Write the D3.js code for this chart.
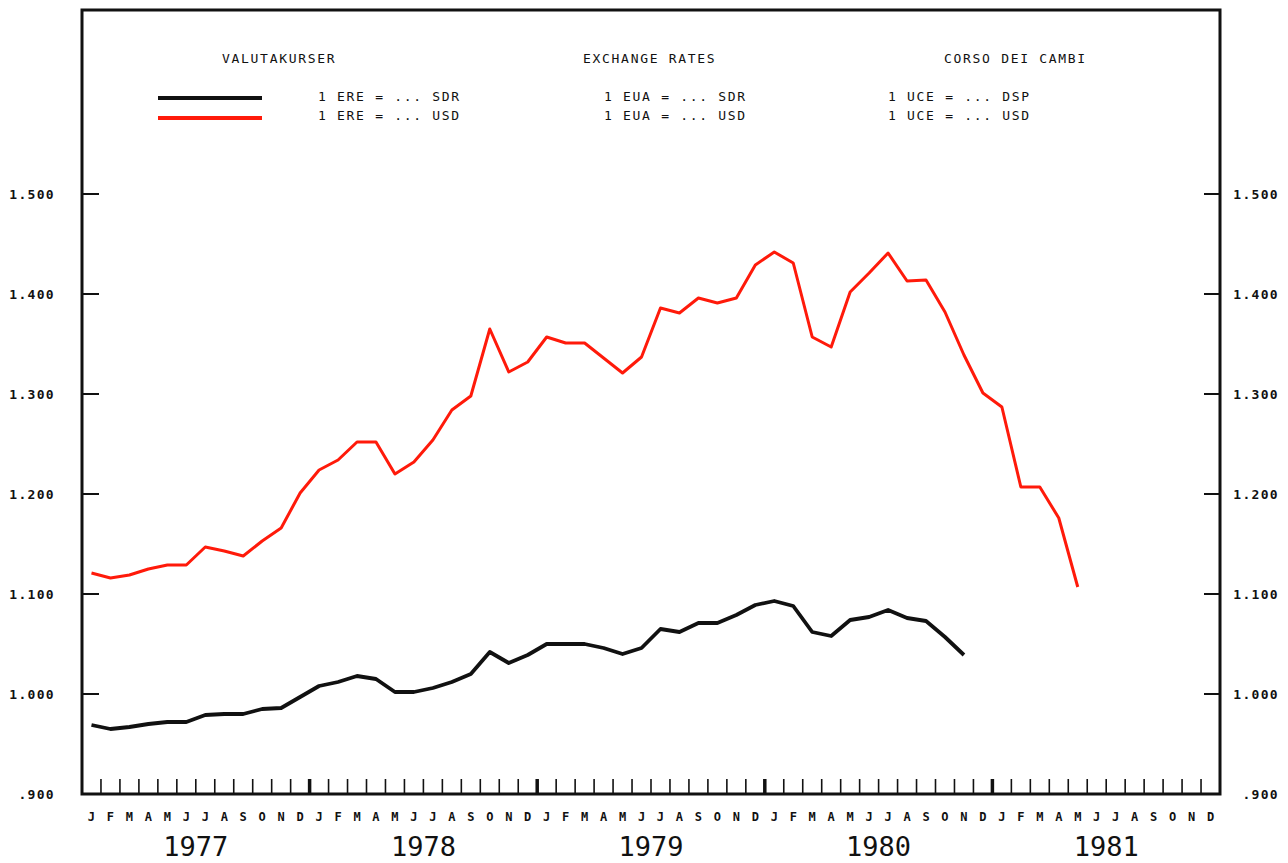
<!DOCTYPE html>
<html>
<head>
<meta charset="utf-8">
<script src="https://cdn.jsdelivr.net/npm/d3@7"></script>
<style>
  body { margin: 0; background: #fff; }
  svg text { font-family: 'DejaVu Sans Mono', monospace; fill: #111; }
</style>
</head>
<body>
<div id="chart"></div>
<script>
// month initials, Jan 1977 .. Dec 1981
var monthLetters = ["J","F","M","A","M","J","J","A","S","O","N","D"];
var years = ["1977", "1978", "1979", "1980", "1981"];
var yTicks = [0.9, 1.0, 1.1, 1.2, 1.3, 1.4, 1.5];

// 1 ERE = ... SDR, monthly from Jan 1977 to Nov 1980
var sdrValues = [
  0.969, 0.965, 0.967, 0.970, 0.972, 0.972, 0.979, 0.980, 0.980, 0.985, 0.986, 0.997,
  1.008, 1.012, 1.018, 1.015, 1.002, 1.002, 1.006, 1.012, 1.020, 1.042, 1.031, 1.039,
  1.050, 1.050, 1.050, 1.046, 1.040, 1.046, 1.065, 1.062, 1.071, 1.071, 1.079, 1.089,
  1.093, 1.088, 1.062, 1.058, 1.074, 1.077, 1.084, 1.076, 1.073, 1.057, 1.039
];

// 1 ERE = ... USD, monthly from Jan 1977 to May 1981
var usdValues = [
  1.121, 1.116, 1.119, 1.125, 1.129, 1.129, 1.147, 1.143, 1.138, 1.153, 1.166, 1.201,
  1.224, 1.234, 1.252, 1.252, 1.220, 1.232, 1.254, 1.284, 1.298, 1.365, 1.322, 1.332,
  1.357, 1.351, 1.351, 1.336, 1.321, 1.337, 1.386, 1.381, 1.396, 1.391, 1.396, 1.429,
  1.442, 1.431, 1.357, 1.347, 1.402, 1.421, 1.441, 1.413, 1.414, 1.382, 1.339, 1.301,
  1.287, 1.207, 1.207, 1.176, 1.107
];

var titles = ["VALUTAKURSER", "EXCHANGE RATES", "CORSO DEI CAMBI"];
var legendSdr = ["1 ERE = ... SDR", "1 EUA = ... SDR", "1 UCE = ... DSP"];
var legendUsd = ["1 ERE = ... USD", "1 EUA = ... USD", "1 UCE = ... USD"];

var W = 1288, H = 863;
var plotL = 82, plotR = 1220, plotT = 10, plotB = 794;
var nMonths = monthLetters.length * years.length;

var svg = d3.select("#chart").append("svg")
    .attr("width", W).attr("height", H);

var x = d3.scaleLinear().domain([0, nMonths]).range([plotL, plotR]);
var y = d3.scaleLinear().domain([0.9, 1.5]).range([plotB, 194]);

var fmt = function (v) {
  var s = d3.format(".3f")(v);
  return s.charAt(0) === "0" ? s.slice(1) : s;
};

// frame
svg.append("path")
    .attr("d", "M" + plotL + "," + plotB + "V" + plotT + "H" + plotR + "V" + plotB + "Z")
    .attr("fill", "none").attr("stroke", "#111").attr("stroke-width", 3);

// y ticks both sides
var yt = yTicks.filter(function (d) { return d > 0.9; });
svg.selectAll(".ytl").data(yt).enter().append("line")
    .attr("x1", plotL).attr("x2", plotL + 17)
    .attr("y1", function (d) { return y(d); }).attr("y2", function (d) { return y(d); })
    .attr("stroke", "#111").attr("stroke-width", 2);
svg.selectAll(".ytr").data(yt).enter().append("line")
    .attr("x1", plotR - 16).attr("x2", plotR)
    .attr("y1", function (d) { return y(d); }).attr("y2", function (d) { return y(d); })
    .attr("stroke", "#111").attr("stroke-width", 2);

svg.selectAll(".yll").data(yTicks).enter().append("text")
    .attr("x", 55).attr("y", function (d) { return y(d) + 5; })
    .attr("text-anchor", "end")
    .style("font-size", "13px").style("font-weight", "bold").style("letter-spacing", "1.3px")
    .text(fmt);
svg.selectAll(".ylr").data(yTicks).enter().append("text")
    .attr("x", 1279).attr("y", function (d) { return y(d) + 5; })
    .attr("text-anchor", "end")
    .style("font-size", "13px").style("font-weight", "bold").style("letter-spacing", "1.3px")
    .text(fmt);

// month boundary ticks, thicker at year boundaries
svg.selectAll(".xt").data(d3.range(1, nMonths)).enter().append("line")
    .attr("x1", function (d) { return x(d); }).attr("x2", function (d) { return x(d); })
    .attr("y1", plotB).attr("y2", plotB - 15)
    .attr("stroke", "#111")
    .attr("stroke-width", function (d) { return d % 12 === 0 ? 3.5 : 1.6; });

// month letters
svg.selectAll(".ml").data(d3.range(nMonths)).enter().append("text")
    .attr("x", function (d) { return x(d + 0.5); })
    .attr("y", 821)
    .attr("text-anchor", "middle")
    .style("font-size", "12px").style("font-weight", "bold")
    .text(function (d) { return monthLetters[d % 12]; });

// years
svg.selectAll(".yr").data(years).enter().append("text")
    .attr("x", function (d, i) { return x(i * 12 + 6); })
    .attr("y", 856)
    .attr("text-anchor", "middle")
    .style("font-size", "27px")
    .text(function (d) { return d; });

// lines
var line = d3.line()
    .x(function (d, i) { return x(i + 0.5); })
    .y(function (d) { return y(d); });

svg.append("path").datum(usdValues)
    .attr("d", line).attr("fill", "none")
    .attr("stroke", "#ff1a0a").attr("stroke-width", 3).attr("stroke-linejoin", "round");
svg.append("path").datum(sdrValues)
    .attr("d", line).attr("fill", "none")
    .attr("stroke", "#111").attr("stroke-width", 3.8).attr("stroke-linejoin", "round");

// legend
var titleX = [222, 583, 944];
var rowX = [318, 604, 888];
var legendFont = function (sel) {
  sel.style("font-size", "13px").style("letter-spacing", "1.7px");
};
svg.selectAll(".tt").data(titles).enter().append("text")
    .attr("x", function (d, i) { return titleX[i]; }).attr("y", 63)
    .call(legendFont)
    .text(function (d) { return d; });
svg.selectAll(".ls").data(legendSdr).enter().append("text")
    .attr("x", function (d, i) { return rowX[i]; }).attr("y", 101)
    .call(legendFont)
    .text(function (d) { return d; });
svg.selectAll(".lu").data(legendUsd).enter().append("text")
    .attr("x", function (d, i) { return rowX[i]; }).attr("y", 120)
    .call(legendFont)
    .text(function (d) { return d; });

svg.append("line").attr("x1", 158).attr("x2", 262).attr("y1", 98).attr("y2", 98)
    .attr("stroke", "#111").attr("stroke-width", 4);
svg.append("line").attr("x1", 158).attr("x2", 262).attr("y1", 118).attr("y2", 118)
    .attr("stroke", "#ff1a0a").attr("stroke-width", 4);
</script>
</body>
</html>
